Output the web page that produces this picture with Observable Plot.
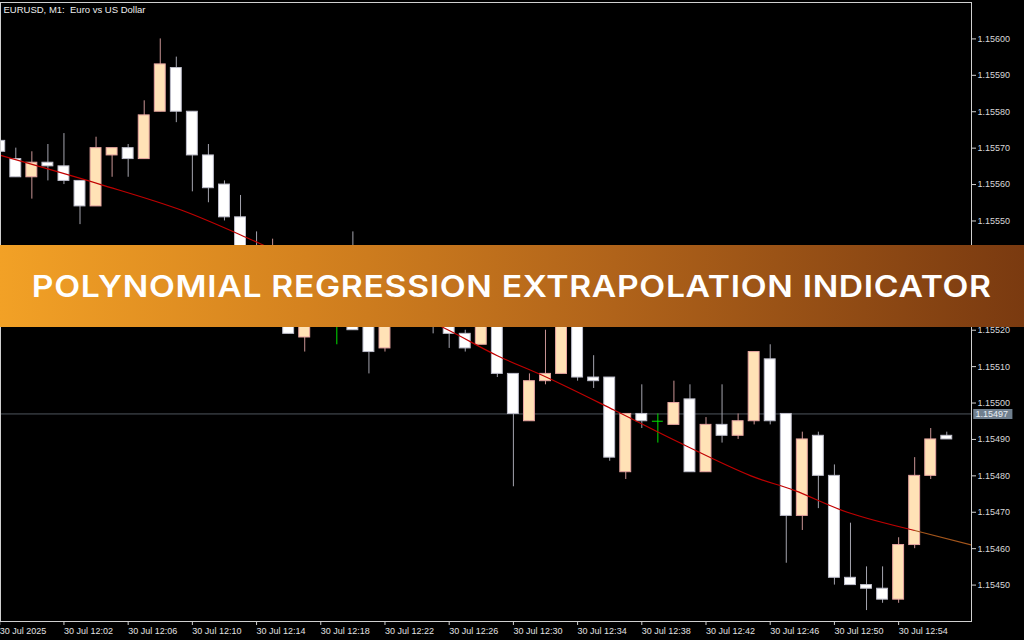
<!DOCTYPE html>
<html><head><meta charset="utf-8">
<script src="https://cdn.jsdelivr.net/npm/d3@7"></script>
<script src="https://cdn.jsdelivr.net/npm/@observablehq/plot@0.6"></script>
<style>
html,body{margin:0;padding:0;background:#000;}
#wrap{position:relative;width:1024px;height:640px;overflow:hidden;background:#000;}
#banner{position:absolute;left:0;top:245px;width:1024px;height:82px;background:linear-gradient(90deg,#f2a126 0%,#d4821f 30%,#b0631a 60%,#7a3a10 100%);display:flex;align-items:center;justify-content:center;}
#banner span{display:inline-block;color:#fff;font-family:Inter,"Open Sans",sans-serif;font-weight:600;font-size:30px;white-space:nowrap;line-height:1;transform-origin:center center;}
</style></head><body>
<div id="wrap"><div id="chart"></div><div id="banner"><span id="btxt">POLYNOMIAL REGRESSION EXTRAPOLATION INDICATOR</span></div></div>
<script>
const title = "EURUSD, M1:\u00a0 Euro vs US Dollar";
const times = ["11:58","11:59","12:00","12:01","12:02","12:03","12:04","12:05","12:06","12:07","12:08","12:09","12:10","12:11","12:12","12:13","12:14","12:15","12:16","12:17","12:18","12:19","12:20","12:21","12:22","12:23","12:24","12:25","12:26","12:27","12:28","12:29","12:30","12:31","12:32","12:33","12:34","12:35","12:36","12:37","12:38","12:39","12:40","12:41","12:42","12:43","12:44","12:45","12:46","12:47","12:48","12:49","12:50","12:51","12:52","12:53","12:54","12:55","12:56","12:57"];
const opens  = [1.15572,1.15567,1.15562,1.15566,1.15565,1.15561,1.15554,1.15568,1.15570,1.15567,1.15580,1.15592,1.15580,1.15568,1.15560,1.15551,1.15541,1.15535,1.15532,1.15518,1.15530,1.15525,1.15527,1.15524,1.15515,1.15526,1.15531,1.15530,1.15528,1.15519,1.15516,1.15525,1.15508,1.15495,1.15506,1.15508,1.15522,1.15507,1.15507,1.15481,1.15497,1.15495,1.15494,1.15501,1.15481,1.15494,1.15491,1.15495,1.15512,1.15497,1.15469,1.15491,1.15480,1.15452,1.15450,1.15449,1.15446,1.15461,1.15480,1.15491];
const highs  = [1.15574,1.15570,1.15569,1.15571,1.15574,1.15561,1.15573,1.15570,1.15571,1.15583,1.15600,1.15595,1.15580,1.15571,1.15561,1.15557,1.15547,1.15545,1.15534,1.15532,1.15533,1.15530,1.15547,1.15527,1.15530,1.15533,1.15534,1.15533,1.15531,1.15520,1.15528,1.15527,1.15508,1.15508,1.15520,1.15526,1.15524,1.15513,1.15507,1.15497,1.15505,1.15497,1.15506,1.15505,1.15496,1.15505,1.15497,1.15514,1.15516,1.15497,1.15492,1.15492,1.15483,1.15467,1.15455,1.15455,1.15463,1.15485,1.15493,1.15492];
const lows   = [1.15568,1.15562,1.15556,1.15561,1.15560,1.15549,1.15554,1.15562,1.15562,1.15567,1.15580,1.15577,1.15558,1.15555,1.15550,1.15537,1.15533,1.15531,1.15519,1.15514,1.15522,1.15516,1.15520,1.15508,1.15514,1.15523,1.15523,1.15519,1.15515,1.15514,1.15516,1.15507,1.15477,1.15495,1.15505,1.15508,1.15506,1.15504,1.15484,1.15479,1.15493,1.15489,1.15494,1.15481,1.15481,1.15489,1.15490,1.15494,1.15494,1.15456,1.15465,1.15471,1.15450,1.15450,1.15443,1.15445,1.15445,1.15460,1.15479,1.15490];
const closes = [1.15569,1.15562,1.15566,1.15565,1.15561,1.15554,1.15570,1.15570,1.15567,1.15579,1.15593,1.15580,1.15568,1.15559,1.15551,1.15539,1.15535,1.15539,1.15519,1.15529,1.15524,1.15525,1.15520,1.15514,1.15527,1.15530,1.15526,1.15524,1.15519,1.15515,1.15526,1.15508,1.15497,1.15506,1.15508,1.15524,1.15507,1.15506,1.15485,1.15497,1.15495,1.15495,1.15500,1.15481,1.15494,1.15491,1.15495,1.15514,1.15495,1.15469,1.15490,1.15480,1.15452,1.15450,1.15449,1.15446,1.15461,1.15480,1.15490,1.15490];

// polynomial regression curve (minutes after 12:00 -> price)
const regMinutes = [-1.95, 4.3, 9.3, 13.6, 14.6, 25.5, 29.0, 32.1, 36.3, 40.4, 44.8, 47.5, 50.8, 55.0];
const regPrices  = [1.15568, 1.15560, 1.15553, 1.15545, 1.15543, 1.15521, 1.15513, 1.15507, 1.15498, 1.15489, 1.15480, 1.15476, 1.15470, 1.15465];
// extrapolated part
const extMinutes = [55.0, 58.54];
const extPrices  = [1.15465, 1.15461];

const bidPrice = 1.15497;
// 1.15530 and 1.15540 lie under the banner in the picture
const yTicks = [1.15450,1.15460,1.15470,1.15480,1.15490,1.15500,1.15510,1.15520,1.15550,1.15560,1.15570,1.15580,1.15590,1.15600];
const xTickMinutes = [-2,2,6,10,14,18,22,26,30,34,38,42,46,50,54];
const xTickLabels = ["30 Jul 2025","30 Jul 12:02","30 Jul 12:06","30 Jul 12:10","30 Jul 12:14","30 Jul 12:18","30 Jul 12:22","30 Jul 12:26","30 Jul 12:30","30 Jul 12:34","30 Jul 12:38","30 Jul 12:42","30 Jul 12:46","30 Jul 12:50","30 Jul 12:54"];

const xMin = -1.953, xMax = 58.54;
const toMin = t => { const [h, m] = t.split(":").map(Number); return (h - 12) * 60 + m; };
const candles = times.map((t, i) => ({m: toMin(t), open: opens[i], high: highs[i], low: lows[i], close: closes[i]}));
const bodies = candles.filter(d => d.open !== d.close);
const dojis = candles.filter(d => d.open === d.close);
const isUp = d => d.close > d.open;
const regFit = regMinutes.map((m, i) => ({m, p: regPrices[i]}));
const regExt = extMinutes.map((m, i) => ({m, p: extPrices[i]}));
const labelMap = new Map(xTickMinutes.map((m, i) => [m, xTickLabels[i]]));
const hw = 0.34;

const chart = Plot.plot({
  width: 1024, height: 640,
  marginTop: 2, marginBottom: 19, marginLeft: 0, marginRight: 53,
  style: {background: "#000", color: "#d8d8d8", fontFamily: "'Liberation Sans', Arial, sans-serif", fontSize: "9px"},
  x: {type: "linear", domain: [xMin, xMax]},
  y: {domain: [1.15440, 1.15610]},
  color: {type: "identity"},
  marks: [
    Plot.ruleY([bidPrice], {stroke: "#4f565e"}),
    Plot.ruleX(candles, {x: "m", y1: "low", y2: "high", stroke: d => d.open === d.close ? "#00e000" : isUp(d) ? "#c99494" : "#a4a4ae", clip: true}),
    Plot.rect(bodies, {x1: d => d.m - hw, x2: d => d.m + hw, y1: "open", y2: "close", fill: d => isUp(d) ? "#ffe2b6" : "#ffffff", stroke: d => isUp(d) ? "#e6a4a0" : "#bdbdca", clip: true}),
    Plot.ruleY(dojis, {y: "open", x1: d => d.m - hw, x2: d => d.m + hw, stroke: "#00e000"}),
    Plot.line(regFit, {x: "m", y: "p", stroke: "#c00000", strokeWidth: 1.2, curve: "catmull-rom", clip: true}),
    Plot.line(regExt, {x: "m", y: "p", stroke: "#a4561c", strokeWidth: 1.2, clip: true}),
    Plot.frame({stroke: "#d0d0d0"}),
    Plot.axisY({anchor: "right", ticks: yTicks, tickFormat: d => d.toFixed(5), tickSize: 4, tickPadding: 2, label: null, stroke: "#d0d0d0", fill: "#d8d8d8"}),
    Plot.axisX({anchor: "bottom", ticks: xTickMinutes, tickFormat: d => labelMap.get(d), tickSize: 4, tickPadding: 2, textAnchor: "start", label: null, stroke: "#d0d0d0", fill: "#e0e0e0"}),
    Plot.ruleY([bidPrice], {x1: xMax + 0.14, x2: xMax + 2.58, stroke: "#6f7f8e", strokeWidth: 10}),
    Plot.text([bidPrice], {x: xMax + 0.25, y: d => d, text: d => d.toFixed(5), textAnchor: "start", fill: "#e8eef4"}),
    Plot.text([title], {frameAnchor: "top-left", dx: 3, dy: 3.5, fill: "#ececec", fontSize: 9.5})
  ]
});
document.getElementById("chart").appendChild(chart);

// fit banner text to the width seen in the picture
const bt = document.getElementById("btxt");
bt.style.letterSpacing = "0.6px";
const w0 = bt.getBoundingClientRect().width;
bt.style.transform = "scaleX(" + (960 / w0) + ")";
</script>
</body></html>
